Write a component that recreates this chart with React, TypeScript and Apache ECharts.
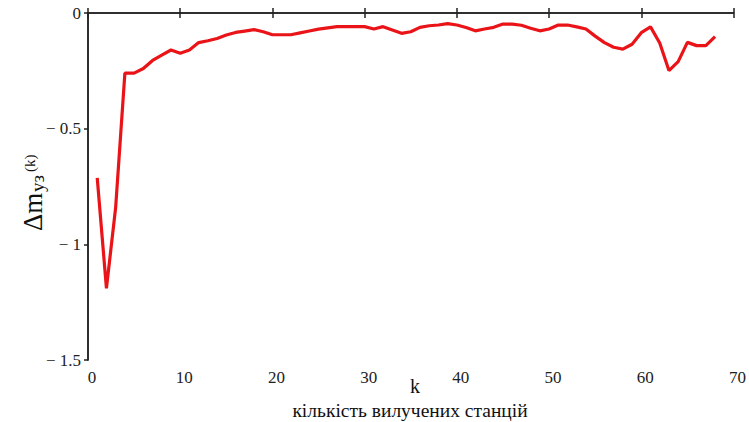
import React, { useEffect, useRef } from "react";
import * as echarts from "echarts";

const kValues: number[] = [
  1, 2, 3, 4, 5, 6, 7, 8, 9, 10, 11, 12, 13, 14, 15, 16, 17, 18, 19, 20,
  21, 22, 23, 24, 25, 26, 27, 28, 29, 30, 31, 32, 33, 34, 35, 36, 37, 38, 39, 40,
  41, 42, 43, 44, 45, 46, 47, 48, 49, 50, 51, 52, 53, 54, 55, 56, 57, 58, 59, 60,
  61, 62, 63, 64, 65, 66, 67, 68,
];

const deltaM: number[] = [
  -0.713, -1.19, -0.84, -0.26, -0.26, -0.24, -0.205, -0.182, -0.16, -0.174,
  -0.16, -0.128, -0.12, -0.11, -0.095, -0.084, -0.078, -0.072, -0.081, -0.094,
  -0.094, -0.094, -0.086, -0.078, -0.07, -0.064, -0.059, -0.059, -0.059, -0.059,
  -0.069, -0.059, -0.073, -0.088, -0.081, -0.062, -0.055, -0.052, -0.046, -0.052,
  -0.063, -0.077, -0.069, -0.062, -0.048, -0.048, -0.053, -0.066, -0.077, -0.069,
  -0.052, -0.052, -0.06, -0.069, -0.1, -0.128, -0.148, -0.156, -0.135, -0.085,
  -0.06, -0.13, -0.249, -0.21, -0.127, -0.141, -0.141, -0.102,
];

const xTicks = { min: 0, max: 70, interval: 10 };
const yTicks = { min: -1.5, max: 0, interval: 0.5 };

const xTitle = "k";
const xSubtitle = "кількість вилучених станцій";

const SERIF = "Liberation Serif";
const AXIS_COLOR = "#222";

export default function App() {
  const ref = useRef<HTMLDivElement>(null);

  useEffect(() => {
    document.body.style.margin = "0";
    if (!ref.current) return;
    const chart = echarts.init(ref.current, undefined, { renderer: "svg" });

    const data = kValues.map((k, i) => [k, deltaM[i]]);

    const axisLineStyle = { show: true, lineStyle: { color: AXIS_COLOR, width: 1.5 } };

    const txt = (text: string, size: number) => ({
      text,
      fontFamily: SERIF,
      fontSize: size,
      fill: "#111",
      align: "left",
      verticalAlign: "middle",
    });

    chart.setOption({
      animation: false,
      backgroundColor: "#ffffff",
      textStyle: { fontFamily: SERIF },
      grid: { left: 88, right: 15, top: 13, bottom: 62, containLabel: false },
      xAxis: [
        {
          type: "value",
          position: "bottom",
          min: xTicks.min,
          max: xTicks.max,
          interval: xTicks.interval,
          axisLine: axisLineStyle,
          axisTick: { show: true, inside: true, length: 5, lineStyle: { color: AXIS_COLOR, width: 1.5 } },
          axisLabel: {
            fontFamily: SERIF,
            fontSize: 17,
            color: "#222",
            margin: 9,
            padding: [0, 0, 0, 8],
          },
          splitLine: { show: false },
        },
        {
          type: "value",
          position: "top",
          min: xTicks.min,
          max: xTicks.max,
          interval: xTicks.interval,
          axisLine: axisLineStyle,
          axisTick: { show: true, inside: true, length: 5, lineStyle: { color: AXIS_COLOR, width: 1.5 } },
          axisLabel: { show: false },
          splitLine: { show: false },
        },
      ],
      yAxis: [
        {
          type: "value",
          position: "left",
          min: yTicks.min,
          max: yTicks.max,
          interval: yTicks.interval,
          axisLine: axisLineStyle,
          axisTick: { show: true, inside: false, length: 4, lineStyle: { color: AXIS_COLOR, width: 1.5 } },
          axisLabel: {
            fontFamily: SERIF,
            fontSize: 17,
            color: "#222",
            margin: 7,
            formatter: (v: number) => (v === 0 ? "0" : "\u2212 " + String(Math.abs(v))),
          },
          splitLine: { show: false },
        },
        {
          type: "value",
          position: "right",
          min: yTicks.min,
          max: yTicks.max,
          interval: yTicks.interval,
          axisLine: axisLineStyle,
          axisTick: { show: false },
          axisLabel: { show: false },
          splitLine: { show: false },
        },
      ],
      series: [
        {
          type: "line",
          xAxisIndex: 0,
          yAxisIndex: 0,
          data,
          showSymbol: false,
          symbol: "none",
          lineStyle: { color: "#ea1418", width: 3.2 },
          z: 5,
        },
      ],
      graphic: [
        {
          type: "group",
          x: 42,
          y: 231,
          rotation: Math.PI / 2,
          children: [
            { type: "text", x: 0, y: -9, style: txt("\u0394m", 27) },
            { type: "text", x: 39, y: -5, style: txt("уз", 19) },
            { type: "text", x: 59, y: -12, style: txt("(k)", 15) },
          ],
        },
        {
          type: "text",
          x: 415,
          y: 386,
          style: { ...txt(xTitle, 20), align: "center" },
        },
        {
          type: "text",
          x: 410,
          y: 410,
          style: { ...txt(xSubtitle, 19.5), align: "center" },
        },
      ],
    });

    return () => {
      chart.dispose();
    };
  }, []);

  return <div ref={ref} style={{ width: 749, height: 422 }} />;
}
